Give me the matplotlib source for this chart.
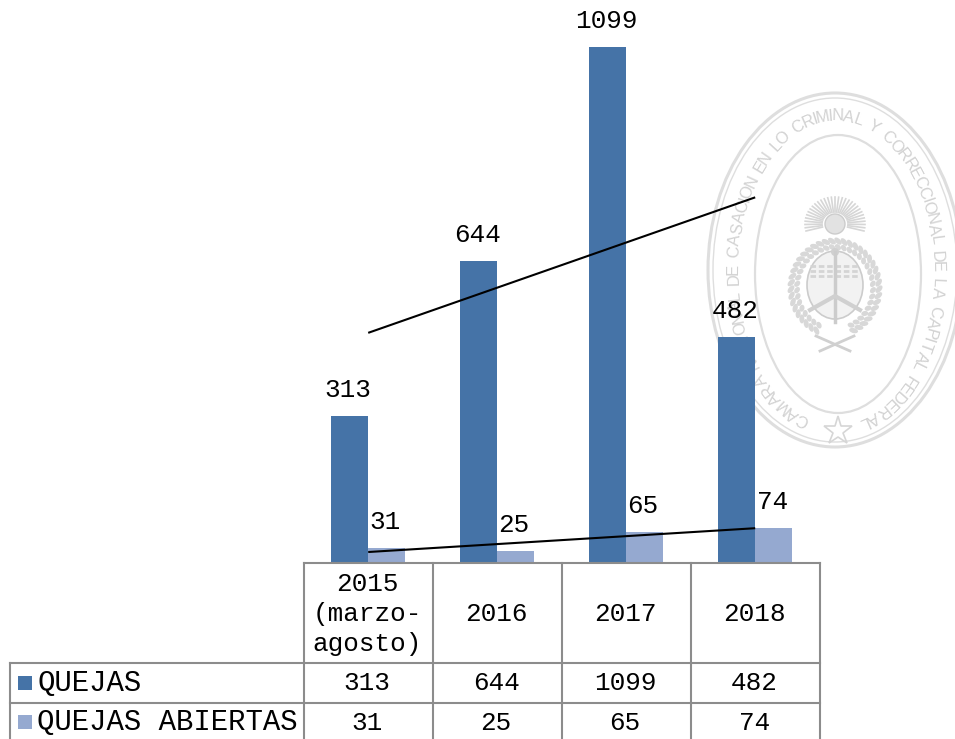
import numpy as np
import matplotlib
matplotlib.use("Agg")
import matplotlib.pyplot as plt
from matplotlib.patches import Ellipse, Rectangle, Circle
from matplotlib.font_manager import FontProperties, fontManager
from matplotlib.textpath import TextPath

categories = ["2015\n(marzo-\nagosto)", "2016", "2017", "2018"]
series_names = ["QUEJAS", "QUEJAS ABIERTAS"]
quejas = [313, 644, 1099, 482]
abiertas = [31, 25, 65, 74]
stamp_text = "CAMARA NACIONAL DE CASACION EN LO CRIMINAL Y CORRECCIONAL DE LA CAPITAL FEDERAL"

BLUE, LIGHT, GRID, STAMP = "#4573A7", "#95A9D0", "#8C8C8C", "#DEDEDE"
W, H = 955, 739
MONO = "Liberation Mono"
NUM = 18.7
px = 0.72

fig = plt.figure(figsize=(W / 100, H / 100), dpi=100, facecolor="white")

# ---- background stamp (pixel coordinates) ----
bg = fig.add_axes([0, 0, 1, 1], zorder=0)
bg.set_xlim(0, W); bg.set_ylim(H, 0); bg.axis("off")
for cx, cy, a, b, lw in [(835, 270, 127, 177, 2.2), (835, 270, 122, 172, 1.0), (838, 274, 83, 139, 1.6)]:
    bg.add_patch(Ellipse((cx, cy), 2 * a, 2 * b, fill=False, ec=STAMP, lw=lw))

names = {f.name for f in fontManager.ttflist}
if "Liberation Sans Narrow" in names:
    fp = FontProperties(family="Liberation Sans Narrow", size=14.5)
else:
    fp = FontProperties(family="Liberation Sans", size=12)
adv = [TextPath((0, 0), c, prop=fp).get_extents().width + 2.2 if c != " " else 6 for c in stamp_text]
tt = np.linspace(0, 2 * np.pi, 2000)
ax_, bx_ = 102, 156
cx0, cy0 = 835.5, 272
xs, ys = cx0 + ax_ * np.sin(tt - np.pi), cy0 - bx_ * np.cos(tt - np.pi)
arc = np.concatenate([[0], np.cumsum(np.hypot(np.diff(xs), np.diff(ys)))])
s0 = np.interp(np.radians(16), tt, arc)
s1 = np.interp(np.radians(344), tt, arc)
cum = np.cumsum(adv) - np.array(adv) / 2
pos = s0 + cum / cum[-1] * (s1 - s0)
for c, s in zip(stamp_text, pos):
    t = np.interp(s, arc, tt) - np.pi
    x = cx0 + ax_ * np.sin(t)
    y = cy0 - bx_ * np.cos(t)
    rot = -np.degrees(np.arctan2(bx_ * np.sin(t), ax_ * np.cos(t)))
    bg.text(x, y, c, fontproperties=fp, color="#D2D2D2", rotation=rot, rotation_mode="anchor",
            ha="center", va="center")
bg.plot([838], [431], marker="*", ms=21, mfc="none", mec="#D6D6D6", mew=1.2, ls="none")

# crest: sun and rays
for ang in np.linspace(-105, 105, 31):
    r = np.radians(ang)
    bg.plot([835 + 13 * np.sin(r), 835 + 30 * np.sin(r)], [224 - 12 * np.cos(r), 224 - 27 * np.cos(r)],
            color="#D6D6D6", lw=1.2)
bg.add_patch(Circle((835, 224), 10, fc="#E2E2E2", ec="#CCCCCC", lw=1))
# wreath, two rows of leaves
for rad, n, size in [(44, 40, 9), (38, 36, 7)]:
    for ang in np.linspace(-155, 155, n):
        r = np.radians(ang)
        x, y = 835 + rad * np.sin(r), 288 - (rad + 3) * np.cos(r)
        bg.add_patch(Ellipse((x, y), size, 5, angle=ang + 40, fc="#D8D8D8", ec="none"))
# shield
bg.add_patch(Ellipse((835, 285), 56, 68, fc="#F2F2F2", ec="#CCCCCC", lw=1.2))
for yy in (266, 271, 276):
    bg.plot([810, 860], [yy, yy], color="#D4D4D4", lw=2, ls=(0, (2, 1)))
bg.plot([835, 835], [252, 322], color="#CCCCCC", lw=2.5)
bg.add_patch(Circle((835, 252), 4, fc="#D0D0D0", ec="none"))
bg.plot([810, 835, 860], [310, 296, 310], color="#D0D0D0", lw=3)
bg.plot([816, 850], [336, 351], color="#D0D0D0", lw=2)
bg.plot([854, 820], [336, 351], color="#D0D0D0", lw=2)

# ---- chart ----
BASE, TOP, L, R = 563, 47, 303.7, 819.7
scale = (BASE - TOP) / max(quejas)
ax = fig.add_axes([L / W, (H - BASE) / H, (R - L) / W, BASE / H], zorder=1)
ax.patch.set_alpha(0)
ax.set_xlim(-0.5, 3.5)
ax.set_ylim(0, BASE / scale)
ax.axis("off")
x = np.arange(len(categories))
bw = 37 / 129
ax.bar(x - bw / 2, quejas, bw, color=BLUE, zorder=2)
ax.bar(x + bw / 2, abiertas, bw, color=LIGHT, zorder=2)
for vals, off in [(quejas, -bw / 2), (abiertas, bw / 2)]:
    m, c = np.polyfit(x, vals, 1)
    ax.plot(x[[0, -1]], m * x[[0, -1]] + c, color="black", lw=1.5, zorder=3, solid_capstyle="butt")
    for xi, v in zip(x, vals):
        ax.annotate(str(v), (xi + off, v), xytext=(-1.5 * px, 26 * px), textcoords="offset points",
                    ha="center", va="center", family=MONO, size=NUM, color="black", zorder=4)

# ---- data table (pixel coordinates for the rules) ----
tb = fig.add_axes([0, 0, 1, 1], zorder=2)
tb.patch.set_alpha(0)
tb.set_xlim(0, W); tb.set_ylim(H, 0); tb.axis("off")
cell = (R - L) / len(categories)
for i in range(len(categories) + 1):
    tb.plot([L + i * cell] * 2, [BASE, H], color=GRID, lw=1.5, solid_capstyle="projecting")
tb.plot([10, 10], [663, H], color=GRID, lw=1.5)
tb.plot([L, R], [BASE, BASE], color=GRID, lw=1.5, solid_capstyle="projecting")
for yy in (663, 703):
    tb.plot([10, R], [yy, yy], color=GRID, lw=1.5, solid_capstyle="projecting")
for i, cat in enumerate(categories):
    cxp = L + (i + 0.5) * cell - 1
    tb.text(cxp, 614, cat, ha="center", va="center", family=MONO, size=NUM, linespacing=1.3, color="black")
    tb.text(cxp, 683, str(quejas[i]), ha="center", va="center", family=MONO, size=NUM, color="black")
    tb.text(cxp, 723, str(abiertas[i]), ha="center", va="center", family=MONO, size=NUM, color="black")
for name, col, yc in zip(series_names, (BLUE, LIGHT), (683, 722)):
    tb.add_patch(Rectangle((18, yc - 7), 14, 14, fc=col, ec="none"))
    tb.text(37, yc, name, ha="left", va="center", family=MONO, size=20.9, color="black")

fig.savefig("out.png", dpi=100, facecolor="white")
